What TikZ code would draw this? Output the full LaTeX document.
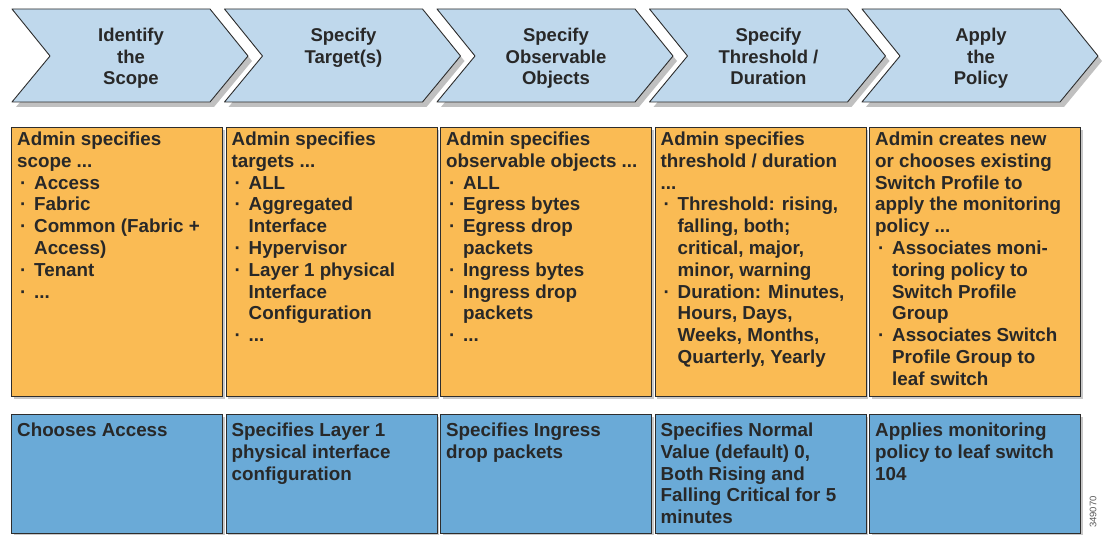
\documentclass[tikz,border=0pt]{standalone}
\usepackage{fontspec}
\setmainfont{Liberation Sans}
\usetikzlibrary{shadows}
\definecolor{chevfill}{RGB}{191,216,236}
\definecolor{orfill}{RGB}{250,187,84}
\definecolor{blfill}{RGB}{106,170,215}
\definecolor{txt}{RGB}{40,40,40}
\definecolor{edgecol}{RGB}{45,45,45}
\newcommand\bul[1]{\hspace*{3pt}\makebox[14pt][l]{·}#1}
\newcommand\cnt[1]{\hspace*{17pt}#1}
\begin{document}
\begin{tikzpicture}[x=1pt,y=-1pt,
  chev/.style={draw=edgecol, line width=0.9pt, fill=chevfill, line join=round,
    drop shadow={shadow xshift=4pt, shadow yshift=-5pt, opacity=0.35, fill=black!70}},
  chevtext/.style={anchor=north, inner sep=0pt, align=center, text=txt,
    font=\fontsize{18.5}{21.5}\selectfont\bfseries},
  obox/.style={draw=edgecol, line width=1.1pt, fill=orfill, anchor=north west,
    minimum width=211pt, minimum height=269pt, inner sep=0pt,
    drop shadow={shadow xshift=2pt, shadow yshift=-2pt, opacity=0.3, fill=black!70}},
  bbox/.style={draw=edgecol, line width=1.1pt, fill=blfill, anchor=north west,
    minimum width=211pt, minimum height=119pt, inner sep=0pt,
    drop shadow={shadow xshift=2pt, shadow yshift=-2pt, opacity=0.3, fill=black!70}},
  boxtext/.style={anchor=north west, inner sep=0pt, align=left, text=txt,
    font=\fontsize{18.8}{21.8}\selectfont\bfseries},
]
\useasboundingbox (0,0) rectangle (1104,535);
\fill[white] (0,0) rectangle (1104,535);

% chevrons
\foreach \i/\t in {0/{Identify\\the\\Scope},
                   1/{Specify\\Target(s)},
                   2/{Specify\\Observable\\Objects},
                   3/{Specify\\Threshold /\\Duration},
                   4/{Apply\\the\\Policy}}{
  \pgfmathsetmacro{\x}{12+212.5*\i}
  \draw[chev] (\x,9) -- (\x+198,9) -- (\x+236,56) -- (\x+198,102) -- (\x,102) -- (\x+38,56) -- cycle;
  \node[chevtext] (c\i) at (\x+119,26.5) {\strut\t};
}

% orange and blue boxes
\foreach \i in {0,...,4}{
  \pgfmathsetmacro{\x}{11+214.5*\i}
  \node[obox] (o\i) at (\x,127) {};
  \node[bbox] (b\i) at (\x,414) {};
}

\node[boxtext] (ot0) at ([xshift=6pt,yshift=-3pt]o0.north west) {\strut Admin specifies\\scope ...\\
 \bul{Access}\\\bul{Fabric}\\\bul{Common (Fabric +}\\\cnt{Access)}\\\bul{Tenant}\\\bul{...}};
\node[boxtext] (ot1) at ([xshift=6pt,yshift=-3pt]o1.north west) {\strut Admin specifies\\targets ...\\
 \bul{ALL}\\\bul{Aggregated}\\\cnt{Interface}\\\bul{Hypervisor}\\\bul{Layer 1 physical}\\\cnt{Interface}\\\cnt{Configuration}\\\bul{...}};
\node[boxtext] (ot2) at ([xshift=6pt,yshift=-3pt]o2.north west) {\strut Admin specifies\\observable objects ...\\
 \bul{ALL}\\\bul{Egress bytes}\\\bul{Egress drop}\\\cnt{packets}\\\bul{Ingress bytes}\\\bul{Ingress drop}\\\cnt{packets}\\\bul{...}};
\node[boxtext] (ot3) at ([xshift=6pt,yshift=-3pt]o3.north west) {\strut Admin specifies\\threshold / duration\\...\\
 \bul{Threshold: rising,}\\\cnt{falling, both;}\\\cnt{critical, major,}\\\cnt{minor, warning}\\
 \bul{Duration: Minutes,}\\\cnt{Hours, Days,}\\\cnt{Weeks, Months,}\\\cnt{Quarterly, Yearly}};
\node[boxtext] (ot4) at ([xshift=6pt,yshift=-3pt]o4.north west) {\strut Admin creates new\\or chooses existing\\Switch Profile to\\apply the monitoring\\policy ...\\
 \bul{Associates moni-}\\\cnt{toring policy to}\\\cnt{Switch Profile}\\\cnt{Group}\\
 \bul{Associates Switch}\\\cnt{Profile Group to}\\\cnt{leaf switch}};

% blue box texts
\node[boxtext] (bt0) at ([xshift=6pt,yshift=-7pt]b0.north west) {\strut Chooses Access};
\node[boxtext] (bt1) at ([xshift=6pt,yshift=-7pt]b1.north west) {\strut Specifies Layer 1\\physical interface\\configuration};
\node[boxtext] (bt2) at ([xshift=6pt,yshift=-7pt]b2.north west) {\strut Specifies Ingress\\drop packets};
\node[boxtext] (bt3) at ([xshift=6pt,yshift=-7pt]b3.north west) {\strut Specifies Normal\\Value (default) 0,\\Both Rising and\\Falling Critical for 5\\minutes};
\node[boxtext] (bt4) at ([xshift=6pt,yshift=-7pt]b4.north west) {\strut Applies monitoring\\policy to leaf switch\\104};

\node[rotate=90, text=black!65, font=\fontsize{9.5}{10}\selectfont, inner sep=0pt] (figid) at (1093,512) {349070};
\end{tikzpicture}
\end{document}
